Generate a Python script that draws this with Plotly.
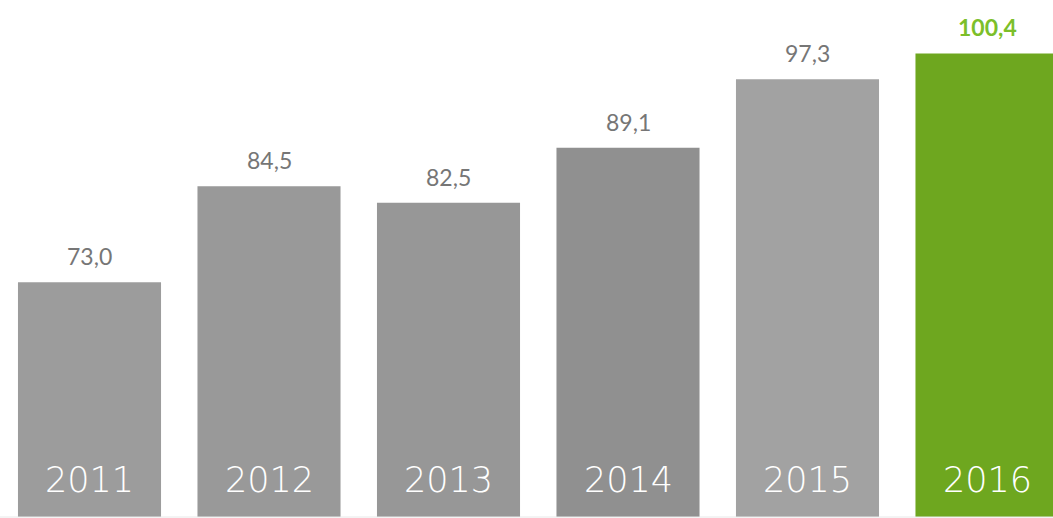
import plotly.graph_objects as go

years = ["2011", "2012", "2013", "2014", "2015", "2016"]
values = [73.0, 84.5, 82.5, 89.1, 97.3, 100.4]
value_labels = ["73,0", "84,5", "82,5", "89,1", "97,3", "100,4"]
bar_colors = ["#9c9c9c", "#999999", "#979797", "#909090", "#a2a2a2", "#6ea71f"]
label_colors = ["#767676"] * 5 + ["#7cbf2a"]

W, H = 1053, 518
xs = list(range(len(years)))

fig = go.Figure()
fig.add_trace(go.Bar(
    x=xs, y=values, width=0.797,
    marker=dict(color=bar_colors, line=dict(width=0)),
    hoverinfo="skip",
))

for i, (v, lab, c) in enumerate(zip(values, value_labels, label_colors)):
    fig.add_annotation(
        x=i, y=v, text=lab, showarrow=False, yanchor="bottom", yshift=10,
        font=dict(family="Lato, 'Open Sans', sans-serif", size=23, color=c,
                  weight=("bold" if i == len(values) - 1 else "normal")),
    )
    fig.add_annotation(
        x=i, y=0, yref="paper", text=years[i], showarrow=False,
        yanchor="bottom", yshift=15,
        font=dict(family="'DejaVu Sans', sans-serif", size=35, color="white",
                  weight=200),
    )

fig.add_shape(type="line", xref="paper", yref="paper", x0=0, x1=1, y0=0, y1=0,
              line=dict(color="#e8e8e8", width=1))

fig.update_layout(
    width=W, height=H,
    margin=dict(l=0, r=0, t=0, b=1),
    paper_bgcolor="white", plot_bgcolor="white",
    showlegend=False,
    xaxis=dict(range=[-0.4986, 5.3677], visible=False, fixedrange=True),
    yaxis=dict(range=[44.87, 106.8], visible=False, fixedrange=True),
)

fig.write_html("out.html")
